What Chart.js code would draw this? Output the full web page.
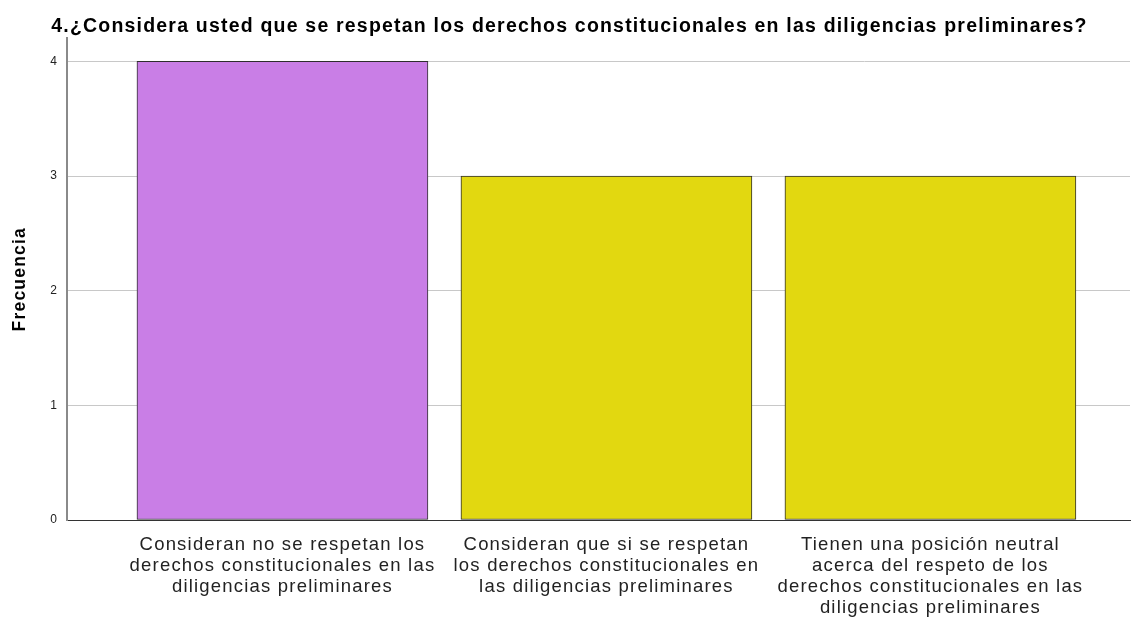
<!DOCTYPE html>
<html>
<head>
<meta charset="utf-8">
<script src="https://cdn.jsdelivr.net/npm/chart.js@4"></script>
<style>
  html, body { margin: 0; padding: 0; background: #fff; }
  #wrap { width: 1134px; height: 618px; }
</style>
</head>
<body>
<div id="wrap"><canvas id="chart"></canvas></div>
<script>
// Data
const categories = [
    ['Consideran no se respetan los', 'derechos constitucionales en las', 'diligencias preliminares'],
    ['Consideran que si se respetan', 'los derechos constitucionales en', 'las diligencias preliminares'],
    ['Tienen una posición neutral', 'acerca del respeto de los', 'derechos constitucionales en las', 'diligencias preliminares']
];
const frecuencia = [4, 3, 3];
const barColors = ['#c97ee6', '#e2d810'];
const yTicks = [0, 1, 2, 3, 4];

const chartTitle = '4.¿Considera usted que se respetan los derechos constitucionales en las diligencias preliminares?';

// the reference text is set a little wider than Liberation Sans
const wideText = {
    id: 'wideText',
    beforeUpdate(chart) { chart.ctx.letterSpacing = '1.2px'; },
    beforeDraw(chart) { chart.ctx.letterSpacing = '1.2px'; }
};

const ctx = document.getElementById('chart').getContext('2d');
new Chart(ctx, {
    type: 'bar',
    data: {
        datasets: [{
            data: frecuencia.map((v, i) => ({ x: i, y: v })),
            backgroundColor: frecuencia.map((v, i) => i === 0 ? barColors[0] : barColors[1]),
            borderColor: '#2e2e2e',
            borderWidth: 1,
            borderSkipped: false,
            barThickness: 291
        }]
    },
    plugins: [wideText],
    options: {
        responsive: true,
        maintainAspectRatio: false,
        animation: false,
        layout: { padding: { left: 9, right: 4, top: 0, bottom: 0 } },
        plugins: {
            legend: { display: false },
            tooltip: { enabled: false },
            title: {
                display: true,
                text: chartTitle,
                align: 'center',
                color: '#000',
                font: { family: 'Liberation Sans', size: 19.5, weight: 'bold' },
                padding: { top: 15, bottom: 0 }
            }
        },
        scales: {
            x: {
                type: 'linear',
                offset: false,
                min: -0.665,
                max: 2.616,
                afterBuildTicks: axis => { axis.ticks = categories.map((c, i) => ({ value: i })); },
                afterFit: scale => { scale.height = 98; },
                grid: { display: false, drawTicks: false, offset: false },
                border: { display: true, color: '#333', width: 1 },
                ticks: {
                    autoSkip: false,
                    maxRotation: 0,
                    padding: 14,
                    color: '#222',
                    font: { family: 'Liberation Sans', size: 18.5, lineHeight: 1.14 },
                    callback: value => categories[value]
                }
            },
            y: {
                min: 0,
                max: 4.2,
                afterBuildTicks: axis => { axis.ticks = yTicks.map(v => ({ value: v })); },
                afterFit: scale => { scale.width = 58; },
                grid: { color: '#c8c8c8', lineWidth: 1, drawTicks: false },
                border: { display: true, color: '#8a8a8a', width: 2 },
                ticks: {
                    padding: 9,
                    color: '#222',
                    font: { family: 'Liberation Sans', size: 12 }
                },
                title: {
                    display: true,
                    text: 'Frecuencia',
                    color: '#000',
                    font: { family: 'Liberation Sans', size: 17.5, weight: 'bold' },
                    padding: { top: 1, bottom: 0 }
                }
            }
        }
    }
});
</script>
</body>
</html>
